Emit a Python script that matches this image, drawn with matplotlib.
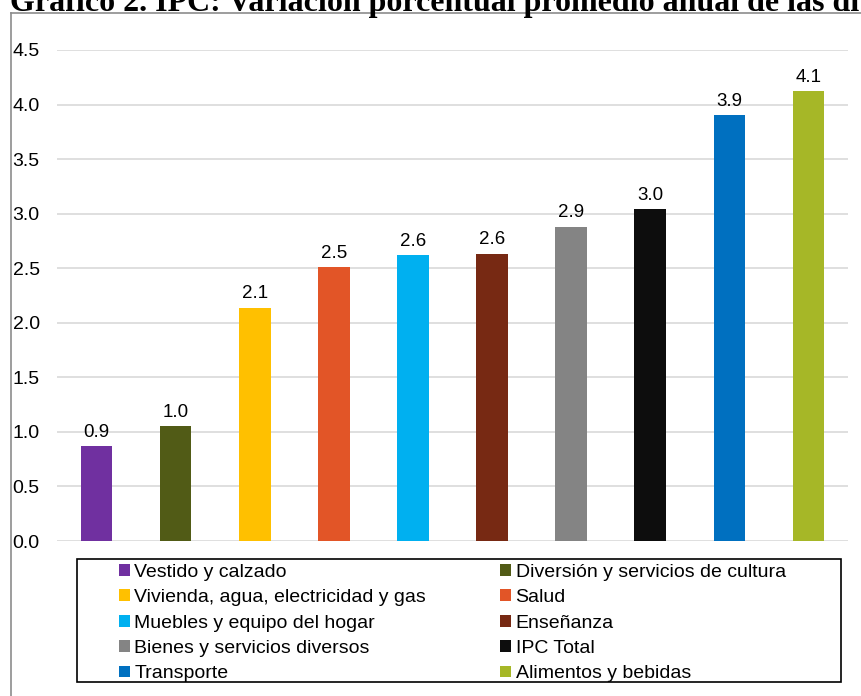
import numpy as np
import matplotlib
matplotlib.use('Agg')
import matplotlib.pyplot as plt
import matplotlib as mpl
from matplotlib.patches import Rectangle
from matplotlib.lines import Line2D

categorias = ['Vestido y calzado',
              'Diversión y servicios de cultura',
              'Vivienda, agua, electricidad y gas',
              'Salud',
              'Muebles y equipo del hogar',
              'Enseñanza',
              'Bienes y servicios diversos',
              'IPC Total',
              'Transporte',
              'Alimentos y bebidas']
valores = [0.87, 1.05, 2.14, 2.51, 2.62, 2.63, 2.88, 3.04, 3.90, 4.12]
etiquetas = ['0.9', '1.0', '2.1', '2.5', '2.6', '2.6', '2.9', '3.0', '3.9', '4.1']
colores = ['#7030A0', '#515B16', '#FFC000', '#E25527', '#00B0F0',
           '#772913', '#848484', '#0D0D0D', '#0070C0', '#A6B727']
yticks = [0.0, 0.5, 1.0, 1.5, 2.0, 2.5, 3.0, 3.5, 4.0, 4.5]

titulo = 'Gráfico 2. IPC: Variación porcentual promedio anual de las divisiones'

W, H = 862, 696
mpl.rcParams['font.family'] = ['Liberation Sans', 'DejaVu Sans']

fig = plt.figure(figsize=(W/100, H/100), dpi=100)

def fx(px):
    return px / W

def fy(py):
    return 1 - py / H

# outer frame (gray, left and top)
fig.add_artist(Line2D([fx(11), fx(11)], [fy(13), fy(H+5)], color='#8C8C8C', lw=1.2))
fig.add_artist(Line2D([fx(11), fx(W+5)], [fy(13), fy(13)], color='#8C8C8C', lw=1.2))

# title, cut off at the top and right as in the original
fig.text(fx(10), fy(11), titulo, fontsize=23, fontweight='bold',
         family=['Liberation Serif'], va='baseline', ha='left')

ax = fig.add_axes([fx(57), fy(541), fx(848-57), (541-50)/H])
x = np.arange(len(valores))
bars = ax.bar(x, valores, width=0.4, color=colores, zorder=3)
for xi, v, lab in zip(x, valores, etiquetas):
    ax.annotate(lab, (xi, v), xytext=(0, 4), textcoords='offset points',
                ha='center', va='bottom', fontsize=13.5)

ax.set_xlim(-0.5, len(valores)-0.5)
ax.set_ylim(0, 4.5)
ax.set_yticks(yticks)
ax.set_yticklabels(['%.1f' % t for t in yticks])
ax.set_xticks([])
ax.yaxis.grid(True, color='#D9D9D9', lw=1.2, zorder=0)
for s in ax.spines.values():
    s.set_visible(False)
ax.tick_params(axis='y', length=0, pad=32, labelsize=14)
for t in ax.get_yticklabels():
    t.set_horizontalalignment('left')

# legend box
fig.add_artist(Rectangle((fx(77), fy(682)), fx(841-77), (682-559)/H,
                         fill=False, edgecolor='black', lw=1.2))

order = [0, 2, 4, 6, 8, 1, 3, 5, 7, 9]
handles = [bars[i] for i in order]
labels = [categorias[i] for i in order]
fig.legend(handles, labels, ncol=2, loc='upper left',
           bbox_to_anchor=(fx(113), fy(558)), frameon=False,
           fontsize=14, handlelength=0.55, handleheight=0.55,
           handletextpad=0.25, labelspacing=0.43, columnspacing=3.8,
           borderpad=0.3, borderaxespad=0)

fig.savefig('out.png', dpi=100)
